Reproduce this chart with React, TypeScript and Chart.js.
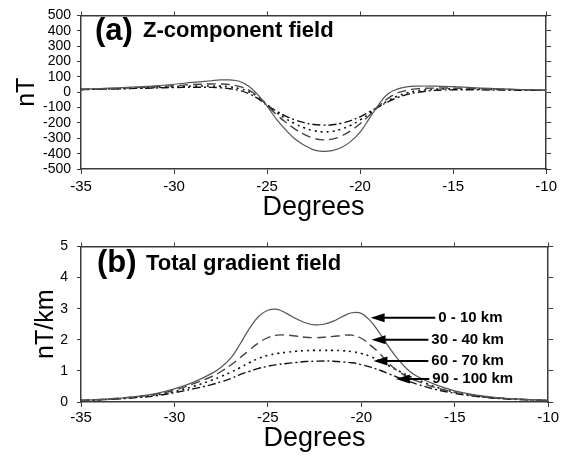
import React, { useEffect, useRef } from "react";
import { Chart, registerables } from "chart.js";

Chart.register(...registerables);

const FONT = '"Liberation Sans", Arial, Helvetica, sans-serif';

// ---- data ----
const degrees = [
  -35, -34, -33, -32, -31, -30, -29, -28, -27.5, -27, -26.5, -26, -25.5, -25,
  -24.5, -24, -23.5, -23, -22.5, -22, -21.5, -21, -20.5, -20, -19.5, -19,
  -18.5, -18, -17.5, -17, -16, -15, -14, -13, -12, -11, -10,
];

const seriesNames = ["0 - 10 km", "30 - 40 km", "60 - 70 km", "90 - 100 km"];

// (a) Z-component field, nT
const zDepth0to10 = [
  20, 24, 29, 35, 42, 52, 64, 75, 80, 80, 72, 40, -15, -90,
  -175, -245, -305, -345, -375, -385, -380, -360, -320, -260, -170, -80,
  -10, 20, 35, 40, 40, 36, 30, 25, 20, 17, 14,
];
const zDepth30to40 = [
  18, 21, 25, 30, 36, 43, 50, 54, 54, 50, 38, 15, -25, -85,
  -145, -195, -240, -275, -300, -310, -305, -285, -250, -205, -150, -90,
  -40, -5, 12, 22, 27, 27, 24, 21, 18, 15, 13,
];
const zDepth60to70 = [
  18, 20, 23, 27, 31, 36, 40, 41, 40, 35, 24, 5, -30, -80,
  -130, -172, -205, -232, -250, -258, -255, -240, -215, -180, -140, -95,
  -55, -25, -5, 8, 20, 22, 21, 19, 17, 15, 13,
];
const zDepth90to100 = [
  18, 20, 22, 25, 28, 31, 33, 32, 29, 23, 12, -8, -40, -85,
  -122, -155, -180, -198, -210, -214, -212, -202, -185, -160, -128, -95,
  -62, -35, -15, -2, 12, 16, 16, 15, 14, 13, 12,
];

// (b) Total gradient field, nT/km
const gDepth0to10 = [
  0.05, 0.08, 0.12, 0.18, 0.27, 0.42, 0.63, 0.92, 1.12, 1.4, 1.85, 2.35, 2.75, 2.95,
  2.98, 2.85, 2.68, 2.55, 2.48, 2.5, 2.6, 2.75, 2.87, 2.85, 2.6, 2.2,
  1.75, 1.35, 1.03, 0.82, 0.55, 0.36, 0.24, 0.16, 0.11, 0.08, 0.05,
];
const gDepth30to40 = [
  0.05, 0.08, 0.12, 0.17, 0.25, 0.38, 0.58, 0.82, 0.98, 1.18, 1.42, 1.66, 1.9, 2.07,
  2.15, 2.15, 2.12, 2.08, 2.07, 2.08, 2.11, 2.14, 2.15, 2.05, 1.82, 1.55,
  1.22, 0.98, 0.8, 0.67, 0.46, 0.31, 0.21, 0.14, 0.1, 0.07, 0.05,
];
const gDepth60to70 = [
  0.05, 0.07, 0.11, 0.16, 0.23, 0.34, 0.5, 0.7, 0.82, 0.95, 1.1, 1.26, 1.4, 1.5,
  1.56, 1.6, 1.63, 1.65, 1.66, 1.66, 1.66, 1.65, 1.62, 1.56, 1.46, 1.32,
  1.16, 1.0, 0.85, 0.72, 0.48, 0.32, 0.21, 0.14, 0.1, 0.07, 0.05,
];
const gDepth90to100 = [
  0.05, 0.07, 0.1, 0.14, 0.2, 0.3, 0.42, 0.56, 0.65, 0.75, 0.88, 0.98, 1.08, 1.15,
  1.2, 1.24, 1.27, 1.3, 1.31, 1.32, 1.31, 1.29, 1.26, 1.2, 1.12, 1.02,
  0.9, 0.78, 0.67, 0.57, 0.4, 0.28, 0.19, 0.13, 0.09, 0.07, 0.05,
];

// arrow annotations in panel (b), in data units
const arrowTipDeg = [-19.5, -19.45, -19.35, -18.15];
const arrowTipVal = [2.71, 2.0, 1.32, 0.74];
const arrowLabelDeg = [-15.88, -16.25, -16.25, -16.2];

// ---- styles ----
const lineStyles = [
  { color: "#555555", width: 1.2, dash: [] as number[] },
  { color: "#444444", width: 1.4, dash: [9, 5] },
  { color: "#111111", width: 1.6, dash: [2, 4] },
  { color: "#111111", width: 1.4, dash: [8, 3, 2, 3] },
];

function makeDatasets(series: number[][]) {
  return series.map((vals, i) => ({
    label: seriesNames[i],
    data: degrees.map((d, j) => ({ x: d, y: vals[j] })),
    borderColor: lineStyles[i].color,
    borderWidth: lineStyles[i].width,
    borderDash: lineStyles[i].dash,
    pointRadius: 0,
    tension: 0.4,
    fill: false,
  }));
}

const FRAME = "#3a3a3a";

function makeScales(p: {
  ymin: number; ymax: number; ystep: number; yTitle: string; yTitlePad: number;
  yTickPad: number; xTickPad: number; xTitlePad: number; topH: number; bottomH: number;
}) {
  return {
    x: {
      type: "linear", position: "bottom", min: -35, max: -10,
      ticks: { stepSize: 5, color: "#000", font: { family: FONT, size: 15 }, padding: p.xTickPad, maxRotation: 0, autoSkip: false },
      grid: { drawOnChartArea: false, tickLength: 5, color: FRAME, lineWidth: 1 },
      border: { color: FRAME, width: 1.5 },
      title: { display: true, text: "Degrees", color: "#000", font: { family: FONT, size: 27 }, padding: { top: 0, bottom: p.xTitlePad } },
      afterFit: (s: any) => { s.height = p.bottomH; },
    },
    xTop: {
      type: "linear", position: "top", min: -35, max: -10,
      ticks: { display: false, stepSize: 5 },
      grid: { drawOnChartArea: false, tickLength: 4, color: FRAME, lineWidth: 1 },
      border: { color: FRAME, width: 1.5 },
      afterFit: (s: any) => { s.height = p.topH; },
    },
    y: {
      type: "linear", position: "left", min: p.ymin, max: p.ymax,
      ticks: { stepSize: p.ystep, color: "#000", font: { family: FONT, size: 14, lineHeight: 1 }, padding: p.yTickPad, autoSkip: false },
      grid: { drawOnChartArea: false, tickLength: 4, color: FRAME, lineWidth: 1 },
      border: { color: FRAME, width: 1.5 },
      title: { display: true, text: p.yTitle, color: "#000", font: { family: FONT, size: 25 }, padding: { top: p.yTitlePad, bottom: 0 } },
      afterFit: (s: any) => { s.width = 81; },
    },
    yRight: {
      type: "linear", position: "right", min: p.ymin, max: p.ymax,
      ticks: { display: false, stepSize: p.ystep, autoSkip: false },
      grid: { drawOnChartArea: false, tickLength: 5, color: FRAME, lineWidth: 1 },
      border: { color: FRAME, width: 1.5 },
      afterFit: (s: any) => { s.width = 11; },
    },
  } as any;
}

function titlePlugin(letter: string, text: string, letterX: number, textX: number, y: number) {
  return {
    id: "panelTitle",
    afterDraw(chart: any) {
      const ctx = chart.ctx;
      ctx.save();
      ctx.fillStyle = "#000";
      ctx.textAlign = "left";
      ctx.textBaseline = "middle";
      ctx.font = `bold 31px ${FONT}`;
      ctx.fillText(letter, letterX, y);
      ctx.font = `bold 22px ${FONT}`;
      ctx.fillText(text, textX, y);
      ctx.restore();
    },
  };
}

const arrowPlugin = {
  id: "depthArrows",
  afterDatasetsDraw(chart: any) {
    const ctx = chart.ctx;
    const xs = chart.scales.x;
    const ys = chart.scales.y;
    ctx.save();
    for (let i = 0; i < seriesNames.length; i++) {
      const tipX = xs.getPixelForValue(arrowTipDeg[i]);
      const tipY = ys.getPixelForValue(arrowTipVal[i]);
      const textX = xs.getPixelForValue(arrowLabelDeg[i]);
      const tailX = textX - 3;
      const head = 14;
      ctx.strokeStyle = "#000";
      ctx.fillStyle = "#000";
      ctx.lineWidth = 2;
      ctx.setLineDash([]);
      ctx.beginPath();
      ctx.moveTo(tailX, tipY);
      ctx.lineTo(tipX + head - 1, tipY);
      ctx.stroke();
      ctx.beginPath();
      ctx.moveTo(tipX, tipY);
      ctx.lineTo(tipX + head, tipY - 4.5);
      ctx.lineTo(tipX + head, tipY + 4.5);
      ctx.closePath();
      ctx.fill();
      ctx.font = `bold 15px ${FONT}`;
      ctx.textAlign = "left";
      ctx.textBaseline = "middle";
      ctx.fillText(seriesNames[i], textX, tipY);
    }
    ctx.restore();
  },
};

function baseOptions(scales: any) {
  return {
    responsive: false,
    maintainAspectRatio: false,
    animation: false,
    devicePixelRatio: 1,
    layout: { padding: 0 },
    plugins: { legend: { display: false }, tooltip: { enabled: false }, title: { display: false } },
    elements: { point: { radius: 0 } },
    scales,
  } as any;
}

export default function App() {
  const refA = useRef<HTMLCanvasElement | null>(null);
  const refB = useRef<HTMLCanvasElement | null>(null);

  useEffect(() => {
    const chartA = new Chart(refA.current as HTMLCanvasElement, {
      type: "line",
      data: { datasets: makeDatasets([zDepth0to10, zDepth30to40, zDepth60to70, zDepth90to100]) as any },
      options: baseOptions(
        makeScales({ ymin: -500, ymax: 500, ystep: 100, yTitle: "nT", yTitlePad: 12, yTickPad: 6, xTickPad: 4, xTitlePad: 5, topH: 15.5, bottomH: 60 })
      ),
      plugins: [titlePlugin("(a)", "Z-component field", 95, 143, 31)],
    });
    const chartB = new Chart(refB.current as HTMLCanvasElement, {
      type: "line",
      data: { datasets: makeDatasets([gDepth0to10, gDepth30to40, gDepth60to70, gDepth90to100]) as any },
      options: baseOptions(
        makeScales({ ymin: 0, ymax: 5, ystep: 1, yTitle: "nT/km", yTitlePad: 31, yTickPad: 9, xTickPad: 2, xTitlePad: 4, topH: 17.5, bottomH: 57 })
      ),
      plugins: [titlePlugin("(b)", "Total gradient field", 97, 146, 34.5), arrowPlugin],
    });
    return () => {
      chartA.destroy();
      chartB.destroy();
    };
  }, []);

  return (
    <div style={{ position: "fixed", left: 0, top: 0, width: 561, height: 459, background: "#fff" }}>
      <canvas ref={refA} width={561} height={229} style={{ position: "absolute", left: 0, top: 0 }} />
      <canvas ref={refB} width={561} height={230} style={{ position: "absolute", left: 0, top: 229 }} />
    </div>
  );
}
